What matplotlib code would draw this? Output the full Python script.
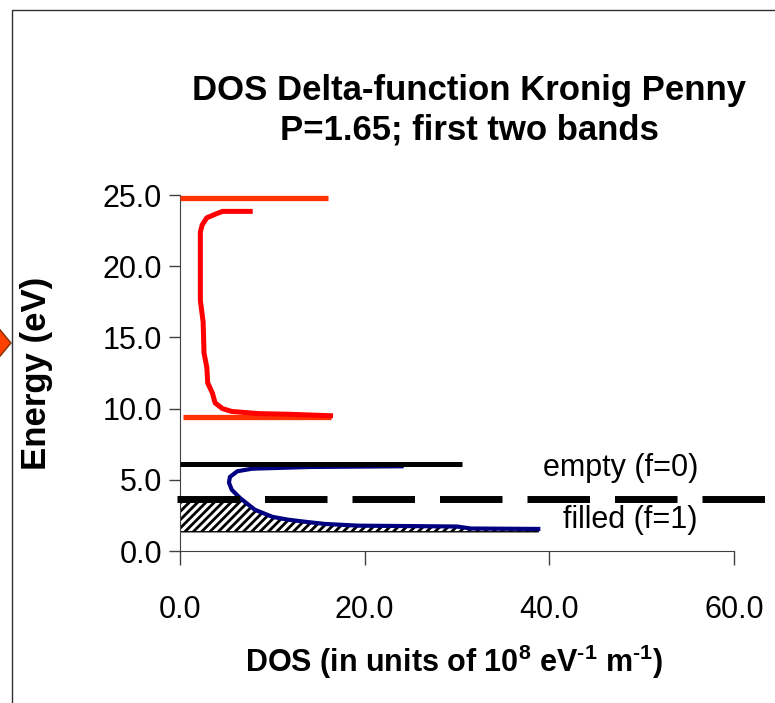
import numpy as np
import matplotlib.pyplot as plt
from matplotlib.patches import Polygon, Rectangle

plt.rcParams['font.family'] = ['Liberation Sans', 'DejaVu Sans']
plt.rcParams['mathtext.fontset'] = 'custom'
plt.rcParams['mathtext.rm'] = 'Liberation Sans:bold'
plt.rcParams['mathtext.default'] = 'rm'
plt.rcParams['hatch.linewidth'] = 2.0

# band 1 (lower band) density of states, read top to bottom
band1_dos = [24.0, 14.0, 7.8, 6.2, 5.4, 5.3, 5.6, 6.5, 8.1, 10.0, 11.7,
             13.6, 15.7, 19.3, 25.0, 30.0, 31.5, 38.8]
band1_e = [5.95, 5.9, 5.78, 5.6, 5.2, 4.8, 4.3, 3.72, 2.9, 2.4, 2.2,
           2.05, 1.9, 1.78, 1.75, 1.72, 1.58, 1.55]

# band 2 (upper band) density of states, read top to bottom
band2_dos = [7.6, 4.6, 3.8, 2.9, 2.4, 2.2, 2.2, 2.2, 2.5, 2.6, 2.9, 3.0,
             3.5, 3.8, 4.6, 5.6, 8.5, 12.0, 16.3]
band2_e = [23.85, 23.85, 23.65, 23.4, 22.9, 22.4, 20.0, 17.6, 16.1, 13.9,
           12.9, 11.8, 11.1, 10.4, 10.0, 9.8, 9.65, 9.6, 9.5]

# band-edge markers for band 2
band2_top = 24.8
band2_bottom = 9.4
band2_edge_dos = [0.0, 16.0]
band2_bottom_dos = [0.3, 16.4]

# top of band 1 / empty states, fermi level, bottom of band 1
empty_e = 6.1
empty_dos = [0.0, 30.5]
fermi_e = 3.65
fermi_dos = [-0.3, 64.0]
band1_floor = 1.35

xticks = [0, 20, 40, 60]
yticks = [0, 5, 10, 15, 20, 25]

fig = plt.figure(figsize=(7.75, 7.03), dpi=100)
ax = fig.add_axes([0.2323, 0.2162, 0.7148, 0.5064])

# occupied states below the fermi level (hatched)
e_arr = np.array(band1_e)
d_arr = np.array(band1_dos)
dos_at_ef = np.interp(fermi_e, e_arr[::-1], d_arr[::-1])
below = e_arr < fermi_e
fill_x = [0.0, 0.0, dos_at_ef] + list(d_arr[below]) + [d_arr[below][-1]]
fill_y = [band1_floor, fermi_e, fermi_e] + list(e_arr[below]) + [band1_floor]
ax.fill(fill_x, fill_y, facecolor='white', edgecolor='black',
        hatch='////', linewidth=1.0, zorder=2)

ax.plot(band2_edge_dos, [band2_top, band2_top], color='#FF3300', lw=3.8,
        solid_capstyle='butt', zorder=3)
ax.plot(band2_bottom_dos, [band2_bottom, band2_bottom], color='#FF3300',
        lw=3.8, solid_capstyle='butt', zorder=3)
ax.plot(band2_dos, band2_e, color='#FF0000', lw=3.6, zorder=4)

ax.plot(band1_dos, band1_e, color='#000080', lw=3.0, zorder=4)
ax.plot(empty_dos, [empty_e, empty_e], color='black', lw=3.6,
        solid_capstyle='butt', zorder=5)
ax.plot(fermi_dos, [fermi_e, fermi_e], color='black', lw=5.0,
        dashes=(9, 3.6), dash_capstyle='butt', clip_on=False, zorder=5)

ax.text(56.1, 5.83, 'empty (f=0)', ha='right', va='center', fontsize=22)
ax.text(56.1, 2.18, 'filled (f=1)', ha='right', va='center', fontsize=22)

ax.set_xlim(0, 60)
ax.set_ylim(0, 25)
ax.set_xticks(xticks)
ax.set_yticks(yticks)
ax.xaxis.set_major_formatter(plt.FormatStrFormatter('%.1f'))
ax.yaxis.set_major_formatter(plt.FormatStrFormatter('%.1f'))
ax.tick_params(labelsize=22, length=8, width=1, color='#404040')
ax.tick_params(axis='x', length=10, pad=22)
ax.tick_params(axis='y', pad=5)
for side in ['top', 'right']:
    ax.spines[side].set_visible(False)
for side in ['left', 'bottom']:
    ax.spines[side].set_color('#404040')

ax.set_xlabel(r'DOS (in units of 10$^{8}$ eV$^{\text{-}1}$ m$^{\text{-}1}$)',
              fontsize=22, fontweight='bold')
ax.xaxis.set_label_coords(0.495, -0.312)
ax.xaxis.label.set_va('center')
ax.set_ylabel('Energy (eV)', fontsize=25, fontweight='bold')
ax.yaxis.set_label_coords(-0.26, 0.5)
ax.yaxis.label.set_va('center')
ax.set_title('DOS Delta-function Kronig Penny\nP=1.65; first two bands',
             fontsize=25, fontweight='bold', pad=40, linespacing=1.25,
             x=0.522)

# chart frame and the shape sticking in from the left
fig.patches.append(Rectangle((12 / 775, -0.1), 1.2, 1.1 - 10 / 703,
                             transform=fig.transFigure, fill=False,
                             edgecolor='#303030', lw=1.0))
fig.patches.append(Polygon([(-9 / 775, 384 / 703), (11 / 775, 360 / 703),
                            (-9 / 775, 336 / 703), (-29 / 775, 360 / 703)],
                           closed=True, transform=fig.transFigure,
                           facecolor='#FF4000', edgecolor='#803000', lw=1.0))

fig.savefig('out.png', dpi=100)
